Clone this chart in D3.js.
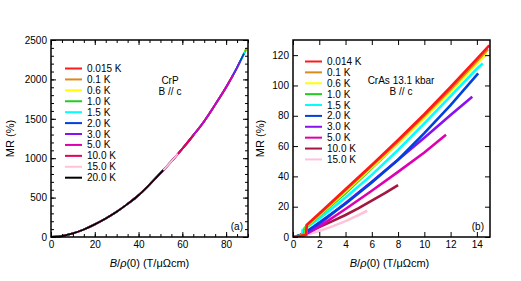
<!DOCTYPE html>
<html>
<head>
<meta charset="utf-8">
<script src="https://cdn.jsdelivr.net/npm/d3@7"></script>
<style>
  body { margin: 0; background: #fff; }
  text { font-family: "Liberation Sans", Arial, sans-serif; fill: #000; }
</style>
</head>
<body>
<script>
// ---- panel (a): CrP, Kohler curve ----
var tempsA = ["0.015 K", "0.1 K", "0.6 K", "1.0 K", "1.5 K", "2.0 K", "3.0 K", "5.0 K", "10.0 K", "15.0 K", "20.0 K"];
var colorsA = ["#ff1a1a", "#d98c1a", "#ffff00", "#22cc22", "#00ffff", "#0040dd", "#8a10ee", "#dd00b0", "#e6005a", "#ffc2da", "#000000"];
// common curve (B/rho(0), MR %)
var kohlerX  = [0, 5, 10, 15, 20, 25, 30, 35, 40, 45, 50, 55, 60, 65, 70, 75, 80, 85];
var kohlerMR = [0, 12, 45, 95, 160, 235, 320, 420, 530, 665, 810, 960, 1120, 1290, 1470, 1680, 1900, 2150];
// where each temperature ends
var endXA  = [89.0, 89.3, 89.6, 89.2, 88.6, 88.2, 86.5, 83.0, 65.0, 58.0, 51.3];
var endMRA = [2374, 2391, 2408, 2385, 2352, 2329, 2234, 2050, 1290, 1056, 849];

// ---- panel (b): CrAs 13.1 kbar ----
var tempsB = ["0.014 K", "0.1 K", "0.6 K", "1.0 K", "1.5 K", "2.0 K", "3.0 K", "5.0 K", "10.0 K", "15.0 K"];
var colorsB = ["#ff1a1a", "#d98c1a", "#ffff00", "#22cc22", "#00ffff", "#0040dd", "#8a10ee", "#dd00b0", "#a3163f", "#ffc2da"];
var b0014 = [[0,0],[0.5,0.6],[1.0,1.5],[1.05,8],[2,15.5],[4,31.5],[6,47.5],[8,64],[10,81],[12,99],[14,117.5],[14.95,126.5]];
var b01   = [[0,0],[0.5,0.6],[1.0,1.5],[1.03,7.5],[2,15],[4,31],[6,47],[8,63],[10,80],[12,97.5],[14,116],[14.85,124]];
var b06   = [[0,0],[0.5,0.7],[0.98,1.6],[1.0,7],[2,14.5],[4,30],[6,46],[8,62],[10,78.5],[12,96],[14,114.5],[14.75,121.5]];
var b10   = [[0,0],[0.5,0.8],[0.88,1.8],[0.9,6],[2,14],[4,29],[6,45.5],[8,62],[10,79.5],[12,97.5],[14,115.5],[14.6,120]];
var b15   = [[0,0],[0.4,0.5],[0.7,1.2],[0.72,4.5],[2,12],[4,26],[6,41],[8,57.5],[10,75],[12,93],[14,111],[14.45,114.6]];
var b20   = [[0,0],[0.3,0.5],[0.6,1.5],[1,3.5],[2,9.5],[4,22],[6,36],[8,51],[10,68.5],[12,87],[14,107],[14.1,108]];
var b30   = [[0,0],[0.3,0.4],[0.7,1.2],[1,2.2],[2,8.5],[4,22.5],[6,36.5],[8,51],[10,65.5],[12,80.5],[13.65,92.5]];
var b50   = [[0,0],[0.5,0.8],[1,2],[2,6.8],[4,18.5],[6,30.5],[8,43],[10,55.8],[11.65,67.5]];
var b100  = [[0,0],[0.5,1],[1,2.5],[2,6.5],[3,10.5],[4,14.5],[5,19],[6,24],[7,29],[8,34.3]];
var b150  = [[0,0],[0.5,0.6],[1,1.5],[2,4],[3,7],[4,10.5],[5,14.5],[5.65,17.3]];
var linesB = [b0014, b01, b06, b10, b15, b20, b30, b50, b100, b150];

var width = 521, height = 281;

var svg = d3.select("body").append("svg")
    .attr("width", width)
    .attr("height", height);

// draws frame, inward ticks on all sides, tick labels, axis titles
function drawFrame(g, x, y, opt) {
    var w = x.range()[1] - x.range()[0];
    var h = y.range()[0] - y.range()[1];

    function ticks(axisFn, scale, values, size, labels, tx, ty) {
        var a = axisFn(scale).tickValues(values).tickSize(-size).tickSizeOuter(0).tickPadding(4);
        a.tickFormat(labels ? d3.format("d") : "");
        var sel = g.append("g").attr("transform", "translate(" + tx + "," + ty + ")").call(a);
        sel.select(".domain").remove();
        sel.selectAll("line").attr("stroke", "#000").attr("stroke-width", 1);
        sel.selectAll("text").attr("font-size", 10).attr("font-family", "Liberation Sans, Arial, sans-serif");
        return sel;
    }
    // minor
    if (opt.xMinor) {
        ticks(d3.axisBottom, x, opt.xMinor, 3, false, 0, y.range()[0]);
        ticks(d3.axisTop, x, opt.xMinor, 3, false, 0, y.range()[1]);
    }
    if (opt.yMinor) {
        ticks(d3.axisLeft, y, opt.yMinor, 3, false, x.range()[0], 0);
        ticks(d3.axisRight, y, opt.yMinor, 3, false, x.range()[1], 0);
    }
    // major
    ticks(d3.axisBottom, x, opt.xMajor, 5, true, 0, y.range()[0]);
    ticks(d3.axisTop, x, opt.xMajor, 5, false, 0, y.range()[1]);
    ticks(d3.axisLeft, y, opt.yMajor, 5, true, x.range()[0], 0);
    ticks(d3.axisRight, y, opt.yMajor, 5, false, x.range()[1], 0);

    g.append("rect")
        .attr("x", x.range()[0]).attr("y", y.range()[1])
        .attr("width", w).attr("height", h)
        .attr("fill", "none").attr("stroke", "#000").attr("stroke-width", 1.5);

    // y title
    g.append("text")
        .attr("transform", "translate(" + opt.yTitleX + "," + (y.range()[1] + h / 2) + ") rotate(-90)")
        .attr("text-anchor", "middle")
        .attr("font-size", 11)
        .text("MR (%)");

    // x title  B/ρ(0) (T/μΩcm)
    var t = g.append("text")
        .attr("x", x.range()[0] + w / 2 + opt.xTitleShift)
        .attr("y", 267)
        .attr("text-anchor", "middle")
        .attr("font-size", 11);
    t.append("tspan").attr("font-style", "italic").text("B");
    t.append("tspan").text("/");
    t.append("tspan").attr("font-style", "italic").text("ρ");
    t.append("tspan").text("(0) (T/μΩcm)");
}

function drawLegend(g, names, colors, x0, y0, step) {
    var row = g.append("g").selectAll("g")
        .data(names)
        .enter().append("g")
        .attr("transform", function(d, i) { return "translate(" + x0 + "," + (y0 + i * step) + ")"; });
    row.append("line")
        .attr("x1", 0).attr("x2", 17)
        .attr("stroke", function(d, i) { return colors[i]; })
        .attr("stroke-width", 2);
    row.append("text")
        .attr("x", 22).attr("dy", "0.35em")
        .attr("font-size", 10)
        .text(function(d) { return d; });
}

// ---------- panel (a) ----------
var xA = d3.scaleLinear().domain([0, 90]).range([51, 248]);
var yA = d3.scaleLinear().domain([0, 2500]).range([237, 40]);
var gA = svg.append("g");

var seriesA = tempsA.map(function(name, i) {
    var pts = [];
    kohlerX.forEach(function(xv, j) { if (xv < endXA[i]) pts.push([xv, kohlerMR[j]]); });
    pts.push([endXA[i], endMRA[i]]);
    return pts;
});

var lineA = d3.line()
    .x(function(d) { return xA(d[0]); })
    .y(function(d) { return yA(d[1]); })
    .curve(d3.curveMonotoneX);

gA.append("g").selectAll("path")
    .data(seriesA)
    .enter().append("path")
    .attr("d", lineA)
    .attr("fill", "none")
    .attr("stroke", function(d, i) { return colorsA[i]; })
    .attr("stroke-width", 1.8);

drawFrame(gA, xA, yA, {
    xMajor: d3.range(0, 81, 20), xMinor: d3.range(0, 91, 5),
    yMajor: d3.range(0, 2501, 500), yMinor: d3.range(0, 2501, 100),
    yTitleX: 14, xTitleShift: 0
});
drawLegend(gA, tempsA, colorsA, 65, 68.5, 10.92);

gA.append("text").attr("x", 170).attr("y", 80).attr("dy", "0.35em").attr("text-anchor", "middle").attr("font-size", 10).text("CrP");
gA.append("text").attr("x", 170).attr("y", 91).attr("dy", "0.35em").attr("text-anchor", "middle").attr("font-size", 10).text("B // c");
gA.append("text").attr("x", 243).attr("y", 226).attr("dy", "0.35em").attr("text-anchor", "end").attr("font-size", 10).text("(a)");

// ---------- panel (b) ----------
var xB = d3.scaleLinear().domain([0, 15]).range([293, 490]);
var yB = d3.scaleLinear().domain([0, 130]).range([237, 40]);
var gB = svg.append("g");

var defs = svg.append("defs");
defs.append("clipPath").attr("id", "clipB")
    .append("rect").attr("x", 293).attr("y", 40).attr("width", 197).attr("height", 197);

var lineB = d3.line()
    .x(function(d) { return xB(d[0]); })
    .y(function(d) { return yB(d[1]); });

gB.append("g").attr("clip-path", "url(#clipB)")
    .selectAll("path")
    .data(linesB.slice().reverse())
    .enter().append("path")
    .attr("d", lineB)
    .attr("fill", "none")
    .attr("stroke", function(d, i) { return colorsB[colorsB.length - 1 - i]; })
    .attr("stroke-width", 2.6);

drawFrame(gB, xB, yB, {
    xMajor: d3.range(0, 15, 2),
    yMajor: d3.range(0, 121, 20),
    yTitleX: 264, xTitleShift: -2
});
drawLegend(gB, tempsB, colorsB, 305, 61.5, 10.88);

gB.append("text").attr("x", 401).attr("y", 80).attr("dy", "0.35em").attr("text-anchor", "middle").attr("font-size", 10).text("CrAs 13.1 kbar");
gB.append("text").attr("x", 401).attr("y", 91).attr("dy", "0.35em").attr("text-anchor", "middle").attr("font-size", 10).text("B // c");
gB.append("text").attr("x", 484).attr("y", 226).attr("dy", "0.35em").attr("text-anchor", "end").attr("font-size", 10).text("(b)");
</script>
</body>
</html>
